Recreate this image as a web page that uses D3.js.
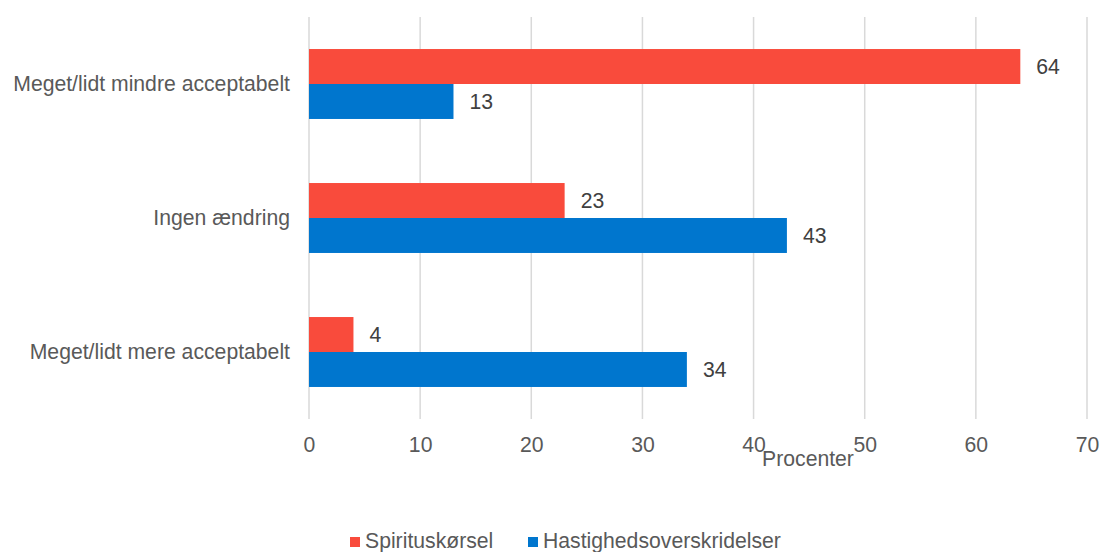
<!DOCTYPE html>
<html>
<head>
<meta charset="utf-8">
<script src="https://cdn.jsdelivr.net/npm/d3@7"></script>
<style>
  html, body { margin: 0; padding: 0; background: #fff; }
  svg { display: block; font-family: "Liberation Sans", Arial, sans-serif; }
</style>
</head>
<body>
<svg id="chart" width="1101" height="552"></svg>
<script>
// Holdning til spirituskørsel og hastighedsoverskridelser
const categories = ["Meget/lidt mindre acceptabelt", "Ingen ændring", "Meget/lidt mere acceptabelt"];
const seriesNames = ["Spirituskørsel", "Hastighedsoverskridelser"];
const spiritus = [64, 23, 4];
const hastighed = [13, 43, 34];
const xTicks = [0, 10, 20, 30, 40, 50, 60, 70];
const xTitle = "Procenter";

const colors = ["#F94B3C", "#0076CE"];
const textColor = "#595959";
const fontSize = 21.2;

const svg = d3.select("#chart");
const plotLeft = 309, plotRight = 1087, plotTop = 17, plotBottom = 419;

const x = d3.scaleLinear().domain([0, 70]).range([plotLeft, plotRight]);
const y = d3.scaleBand().domain(categories).range([plotTop, plotBottom])
  .paddingInner(0.478).paddingOuter(0.239);
const ySub = d3.scaleBand().domain(seriesNames).range([0, y.bandwidth()]);

const rows = categories.map((c, i) => ({ cat: c, values: [spiritus[i], hastighed[i]] }));

// gridlines
svg.append("g").selectAll("line").data(xTicks).join("line")
  .attr("x1", d => x(d)).attr("x2", d => x(d))
  .attr("y1", plotTop).attr("y2", plotBottom)
  .attr("stroke", "#d9d9d9").attr("stroke-width", 1.5);

// x tick labels
const xAxis = d3.axisBottom(x).tickValues(xTicks).tickSize(0).tickPadding(0);
const gx = svg.append("g").attr("transform", `translate(0,${plotBottom})`).call(xAxis);
gx.select(".domain").remove();
gx.selectAll("text").attr("dy", null).attr("y", 33)
  .attr("font-size", fontSize).attr("fill", textColor)
  .attr("font-family", "Liberation Sans, Arial, sans-serif");

// axis title
svg.append("text").attr("x", 808).attr("y", 466).attr("text-anchor", "middle")
  .attr("font-size", fontSize).attr("fill", textColor).text(xTitle);

// category labels
const yAxis = d3.axisLeft(y).tickSize(0).tickPadding(19);
const gy = svg.append("g").attr("transform", `translate(${plotLeft},0)`).call(yAxis);
gy.select(".domain").remove();
gy.selectAll("text").attr("font-size", fontSize).attr("fill", textColor)
  .attr("font-family", "Liberation Sans, Arial, sans-serif");

// bars
const groups = svg.append("g").selectAll("g").data(rows).join("g")
  .attr("transform", d => `translate(0,${y(d.cat)})`);

groups.selectAll("rect").data(d => d.values.map((v, j) => ({ v, s: seriesNames[j], j })))
  .join("rect")
  .attr("x", x(0))
  .attr("y", d => ySub(d.s))
  .attr("width", d => x(d.v) - x(0))
  .attr("height", ySub.bandwidth())
  .attr("fill", d => colors[d.j]);

// value labels at bar ends
groups.selectAll("text.val").data(d => d.values.map((v, j) => ({ v, s: seriesNames[j] })))
  .join("text").attr("class", "val")
  .attr("x", d => x(d.v) + 16)
  .attr("y", d => ySub(d.s) + ySub.bandwidth() / 2)
  .attr("dy", "0.35em")
  .attr("font-size", fontSize).attr("fill", "#404040")
  .text(d => d.v);

// legend
const legendX = [350, 528];
const leg = svg.append("g").selectAll("g").data(seriesNames).join("g")
  .attr("transform", (d, i) => `translate(${legendX[i]},537)`);
leg.append("rect").attr("width", 10).attr("height", 10).attr("fill", (d, i) => colors[i]);
leg.append("text").attr("x", 15).attr("y", 11)
  .attr("font-size", fontSize).attr("fill", textColor).text(d => d);
</script>
</body>
</html>
